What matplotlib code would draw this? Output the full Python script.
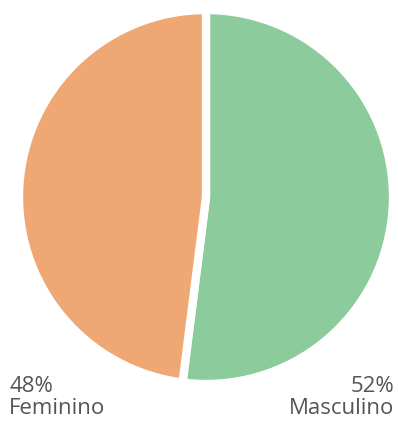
import matplotlib
matplotlib.use("Agg")
import matplotlib.pyplot as plt

labels = ["Masculino", "Feminino"]
shares = [52, 48]
colors = ["#8ccb9b", "#efa773"]

W, H = 398, 422
fig = plt.figure(figsize=(W / 100, H / 100), dpi=100)

# pie centred at (206, 197) px, outer radius ~187 px before the white stroke
cx, cy, r = 206, 197, 187
ax = fig.add_axes([(cx - r) / W, (H - cy - r) / H, 2 * r / W, 2 * r / H])
ax.pie(shares, colors=colors, startangle=90, counterclock=False,
       wedgeprops=dict(edgecolor="white", linewidth=6))
ax.set_xlim(-1, 1)
ax.set_ylim(-1, 1)
ax.set_aspect("equal")
ax.axis("off")

txt = dict(fontsize=16, color="#555555", family="Open Sans", linespacing=1.05)
fig.text(9 / W, 1 - 419 / H, f"{shares[1]}%\n{labels[1]}", ha="left", va="bottom", **txt)
fig.text(394 / W, 1 - 419 / H, f"{shares[0]}%\n{labels[0]}", ha="right", va="bottom",
         multialignment="right", **txt)

fig.savefig("out.png", dpi=100)
